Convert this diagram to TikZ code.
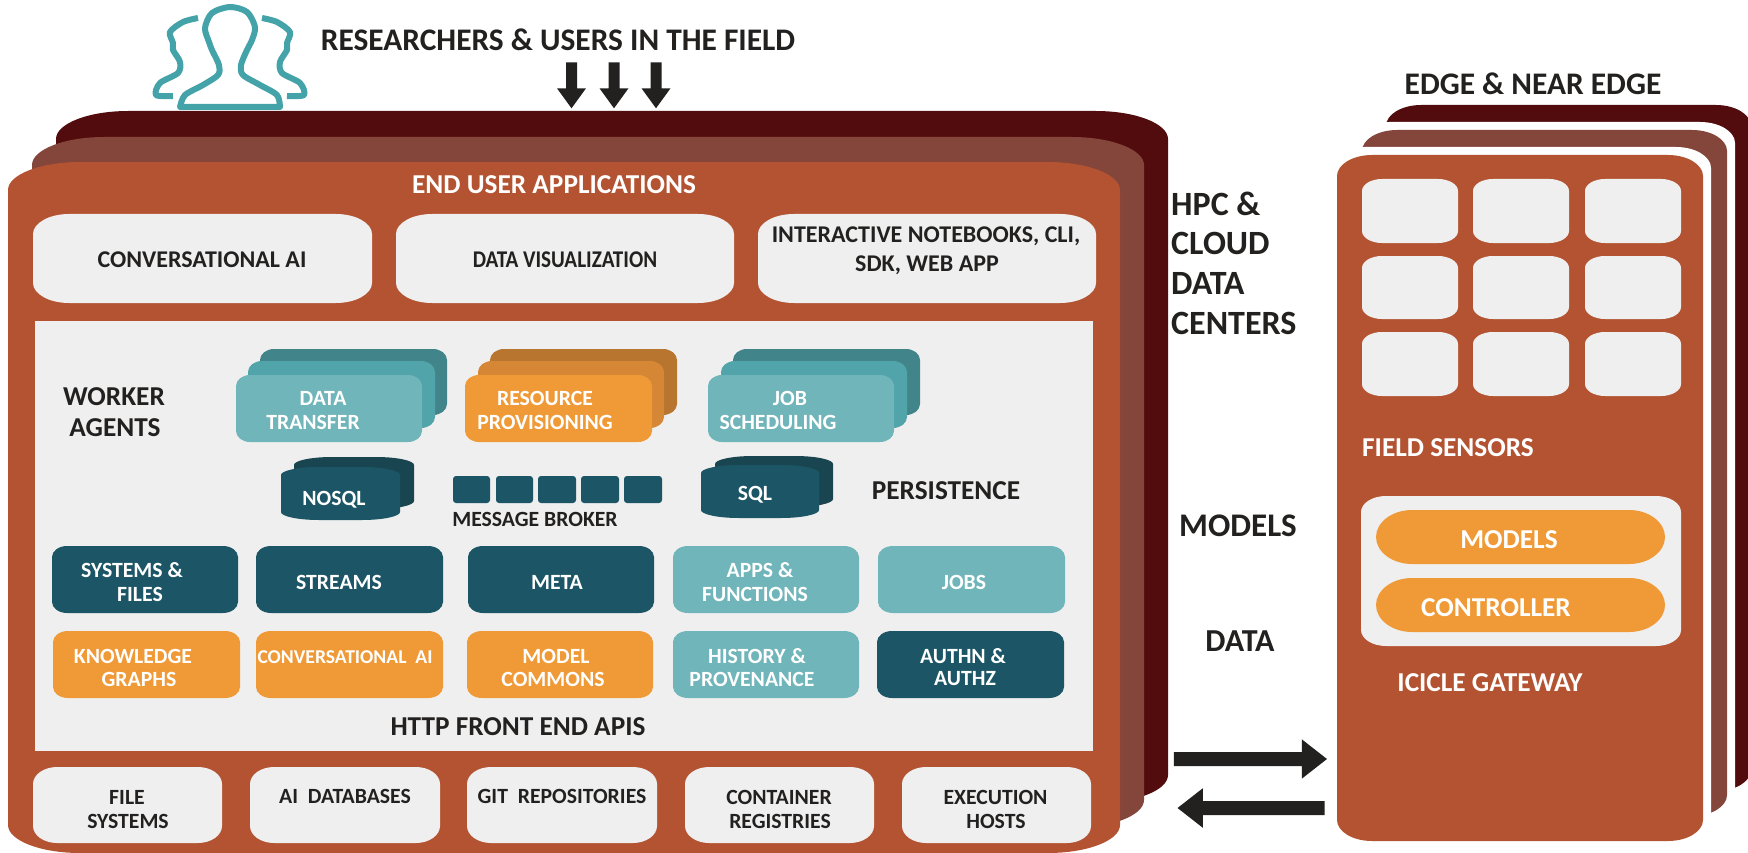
\documentclass[tikz,border=0pt]{standalone}
\usepackage{fontspec}
\setmainfont{Carlito}
\usetikzlibrary{shapes.arrows}

\definecolor{rust}{HTML}{B35332}
\definecolor{rustmid}{HTML}{84453A}
\definecolor{rustback}{HTML}{520C0D}
\definecolor{panel}{HTML}{EFEFEF}
\definecolor{deepteal}{HTML}{1C5666}
\definecolor{deeptealback}{HTML}{194551}
\definecolor{teal1}{HTML}{70B5BA}
\definecolor{teal2}{HTML}{52A4AB}
\definecolor{teal3}{HTML}{41848A}
\definecolor{amber1}{HTML}{F09A37}
\definecolor{amber2}{HTML}{D68735}
\definecolor{amber3}{HTML}{B8752F}
\definecolor{icon}{HTML}{44A3A8}
\definecolor{ink}{HTML}{222120}

% fill, x0, y0, x1, y1, x radius, y radius
\newcommand{\ebox}[7]{%
  \fill[#1] ({#2+#6},#3) -- ({#4-#6},#3)
    .. controls ({#4-.45*#6},#3) and (#4,{#3+.45*#7}) .. (#4,{#3+#7})
    -- (#4,{#5-#7})
    .. controls (#4,{#5-.45*#7}) and ({#4-.45*#6},#5) .. ({#4-#6},#5)
    -- ({#2+#6},#5)
    .. controls ({#2+.45*#6},#5) and (#2,{#5-.45*#7}) .. (#2,{#5-#7})
    -- (#2,{#3+#7})
    .. controls (#2,{#3+.45*#7}) and ({#2+.45*#6},#3) .. cycle;}

\begin{document}
\begin{tikzpicture}[x=1pt, y=-1pt, line join=round]
  \useasboundingbox (0,0) rectangle (1748,853);
  \tikzset{
    lab/.style={font=\fontsize{21.7}{24}\selectfont\bfseries, text=ink, inner sep=0pt},
    whitelab/.style={lab, text=white},
    applab/.style={lab, font=\fontsize{24}{26}\selectfont\bfseries},
    biglab/.style={lab, font=\fontsize{31.4}{33}\selectfont\bfseries},
    sidelab/.style={lab, font=\fontsize{34}{36}\selectfont\bfseries},
    headlab/.style={lab, font=\fontsize{27.3}{29}\selectfont\bfseries, yshift=-0.8pt},
    whitehead/.style={headlab, text=white},
    blockarrow/.style={single arrow, fill=ink, single arrow head indent=0pt, anchor=center},
    downarrow/.style={blockarrow, shape border rotate=270, inner sep=5pt, minimum height=46pt, minimum width=29pt,
      single arrow head extend=8.5pt, single arrow tip angle=72},
    sidearrow/.style={blockarrow, inner xsep=0pt, inner ysep=6.8pt, minimum width=39pt,
      single arrow head extend=12.7pt, single arrow tip angle=76},
    person/.style={icon, line width=6pt, line cap=butt}
  }

  % --- people icon
  \draw[person] plot[smooth] coordinates {(180,107) (185,95) (203,85) (218,75) (219,65) (212,50) (209,42)
    (205,28) (212,13) (230,7) (247,12) (255,27) (252,40) (247,50) (241,65) (243,75) (260,85) (277,95) (280,107)} -- cycle;
  \draw[person] plot[smooth] coordinates {(198,18) (183,22) (170,32) (173,43) (173,50) (180,62) (178,73)
    (160,83) (156,95) (173,96)};
  \draw[person] plot[smooth] coordinates {(262,18) (277,22) (290,32) (287,43) (287,50) (280,62) (282,73)
    (300,83) (304,95) (287,96)};

  % --- data center layers
  \ebox{rustback}{56}{111}{1168}{803}{72}{28}
  \ebox{rustmid}{32}{137}{1144}{828}{72}{28}
  \ebox{rust}{8}{162}{1120}{853}{72}{28}

  % --- edge layers
  \ebox{rustback}{1386}{105}{1751}{791}{35}{21}
  \ebox{white}{1354}{122}{1735}{824}{35}{21}
  \ebox{rustmid}{1362}{130}{1727}{816}{35}{21}
  \ebox{white}{1329}{147}{1711}{849}{35}{21}
  \ebox{rust}{1337}{155}{1703}{841}{35}{21}

  % --- end user applications
  \ebox{panel}{33}{214}{372}{303}{36}{20}
  \ebox{panel}{396}{214}{734}{303}{36}{20}
  \ebox{panel}{758}{214}{1096}{303}{36}{20}

  \node[whitehead] (appslab) at (554,184) {END USER APPLICATIONS};
  \node[applab] (chatlab) at (202,260) {CONVERSATIONAL AI};
  \node[applab] (vizlab) at (565,260) {\scalebox{.88}[1]{DATA VISUALIZATION}};
  \node[applab] (notelab) at (926,236) {INTERACTIVE NOTEBOOKS, CLI,};
  \node[applab] (sdklab) at (927,265) {SDK, WEB APP};

  % --- services panel
  \fill[panel] (35,321) rectangle (1093,751);

  \node[headlab] (workerlab) at (114,396) {WORKER};
  \node[headlab] (agentslab) at (115,427) {AGENTS};

  % --- worker stacks
  \ebox{teal3}{260}{349}{447}{415}{14}{11}
  \ebox{teal2}{248}{361}{435}{428}{14}{11}
  \ebox{teal1}{236}{375}{422}{442}{14}{11}
  \ebox{amber3}{490}{349}{677}{415}{14}{11}
  \ebox{amber2}{478}{361}{664}{428}{14}{11}
  \ebox{amber1}{465}{375}{652}{442}{14}{11}
  \ebox{teal3}{733}{349}{920}{415}{14}{11}
  \ebox{teal2}{721}{361}{907}{428}{14}{11}
  \ebox{teal1}{708}{375}{894}{442}{14}{11}

  \node[whitelab] (datalab) at (323,398) {DATA};
  \node[whitelab] (transferlab) at (313,422) {TRANSFER};
  \node[whitelab] (resourcelab) at (545,398) {RESOURCE};
  \node[whitelab] (provisionlab) at (545,422) {PROVISIONING};
  \node[whitelab] (joblab) at (790,398) {JOB};
  \node[whitelab] (schedlab) at (778,422) {SCHEDULING};

  % --- persistence
  \ebox{deeptealback}{294}{457}{414}{509}{38}{8}
  \ebox{deepteal}{281}{467}{400}{520}{38}{8}
  \ebox{deeptealback}{715}{456}{833}{507}{38}{8}
  \ebox{deepteal}{701}{465}{819}{518}{38}{8}

  \ebox{deepteal}{453}{476}{490}{503}{3}{3}
  \ebox{deepteal}{496}{476}{533}{503}{3}{3}
  \ebox{deepteal}{538}{476}{576}{503}{3}{3}
  \ebox{deepteal}{581}{476}{619}{503}{3}{3}
  \ebox{deepteal}{624}{476}{662}{503}{3}{3}

  \node[whitelab] (nosqllab) at (334,500) {NOSQL};
  \node[whitelab] (sqllab) at (755,495) {SQL};
  \node[lab] (brokerlab) at (535,519) {MESSAGE BROKER};
  \node[headlab] (persistlab) at (946,490) {PERSISTENCE};

  % --- service tiles, upper row
  \ebox{deepteal}{52}{546}{238}{613}{15}{11}
  \ebox{deepteal}{256}{546}{443}{613}{15}{11}
  \ebox{deepteal}{468}{546}{654}{613}{15}{11}
  \ebox{teal1}{673}{546}{859}{613}{15}{11}
  \ebox{teal1}{878}{546}{1065}{613}{15}{11}

  \node[whitelab] (systemslab) at (132,570) {SYSTEMS \&};
  \node[whitelab] (fileslab) at (140,594) {FILES};
  \node[whitelab] (streamslab) at (339,582) {STREAMS};
  \node[whitelab] (metalab) at (557,582) {META};
  \node[whitelab] (appslabb) at (760,570) {APPS \&};
  \node[whitelab] (funclab) at (755,594) {FUNCTIONS};
  \node[whitelab] (jobslab) at (964,582) {JOBS};

  % --- service tiles, lower row
  \ebox{amber1}{53}{631}{240}{698}{15}{11}
  \ebox{amber1}{256}{631}{443}{698}{15}{11}
  \ebox{amber1}{467}{631}{653}{698}{15}{11}
  \ebox{teal1}{673}{631}{859}{698}{15}{11}
  \ebox{deepteal}{877}{631}{1064}{698}{15}{11}

  \node[whitelab] (knowlab) at (133,656) {KNOWLEDGE};
  \node[whitelab] (graphlab) at (139,679) {GRAPHS};
  \node[whitelab, font=\fontsize{19.6}{21}\selectfont\bfseries] (chat2lab) at (345,657) {CONVERSATIONAL\ \ AI};
  \node[whitelab] (modellab) at (556,656) {MODEL};
  \node[whitelab] (commonslab) at (553,679) {COMMONS};
  \node[whitelab] (historylab) at (757,656) {HISTORY \&};
  \node[whitelab] (provlab) at (752,679) {PROVENANCE};
  \node[whitelab] (authnlab) at (963,656) {AUTHN \&};
  \node[whitelab] (authzlab) at (965,679) {AUTHZ};

  \node[headlab] (httplab) at (518,726) {HTTP FRONT END APIS};

  % --- storage row
  \ebox{panel}{33}{767}{222}{843}{24}{17}
  \ebox{panel}{250}{767}{440}{843}{24}{17}
  \ebox{panel}{467}{767}{657}{843}{24}{17}
  \ebox{panel}{685}{767}{874}{843}{24}{17}
  \ebox{panel}{902}{767}{1091}{843}{24}{17}

  \node[lab] (filelab) at (127,797) {FILE};
  \node[lab] (systems2lab) at (128,821) {SYSTEMS};
  \node[lab] (dblab) at (345,796) {AI\ \ DATABASES};
  \node[lab] (gitlab) at (562,796) {GIT\ \ REPOSITORIES};
  \node[lab] (containerlab) at (779,797) {CONTAINER};
  \node[lab] (registrylab) at (780,821) {REGISTRIES};
  \node[lab] (execlab) at (995.5,797) {EXECUTION};
  \node[lab] (hostlab) at (996,821) {HOSTS};

  % --- field sensors
  \ebox{panel}{1362}{179}{1458}{243}{20}{12}
  \ebox{panel}{1473}{179}{1569}{243}{20}{12}
  \ebox{panel}{1585}{179}{1681}{243}{20}{12}
  \ebox{panel}{1362}{256}{1458}{319}{20}{12}
  \ebox{panel}{1473}{256}{1569}{319}{20}{12}
  \ebox{panel}{1585}{256}{1681}{319}{20}{12}
  \ebox{panel}{1362}{332}{1458}{396}{20}{12}
  \ebox{panel}{1473}{332}{1569}{396}{20}{12}
  \ebox{panel}{1585}{332}{1681}{396}{20}{12}

  \node[whitehead] (sensorlab) at (1448,447) {FIELD SENSORS};

  % --- gateway
  \ebox{panel}{1361}{496}{1681}{646}{25}{16}
  \ebox{amber1}{1376}{510}{1665}{564}{36}{27}
  \ebox{amber1}{1376}{578}{1665}{632}{36}{27}

  \node[whitehead] (modelslab) at (1509,539) {MODELS};
  \node[whitehead] (ctrllab) at (1496,607) {CONTROLLER};
  \node[whitehead] (gatewaylab) at (1490,682) {ICICLE GATEWAY};

  % --- headings outside the layers
  \node[biglab] (userslab) at (558,40) {RESEARCHERS \& USERS IN THE FIELD};
  \node[biglab] (edgelab) at (1533,84) {EDGE \& NEAR EDGE};
  \node[sidelab, anchor=west] (hpclab) at (1171,204) {HPC \&};
  \node[sidelab, anchor=west] (cloudlab) at (1171,243) {CLOUD};
  \node[sidelab, anchor=west] (dclab) at (1171,283) {DATA};
  \node[sidelab, anchor=west] (centerslab) at (1171,323) {CENTERS};
  \node[lab, font=\fontsize{33}{35}\selectfont\bfseries] (modeltextlab) at (1238,526) {MODELS};
  \node[lab, font=\fontsize{32}{34}\selectfont\bfseries] (datatextlab) at (1240,641) {DATA};

  % --- block arrows
  \node[downarrow] (down1) at (571.5,81.5) {};
  \node[downarrow] (down2) at (614,81.5) {};
  \node[downarrow] (down3) at (656,81.5) {};
  \node[sidearrow, minimum height=153pt] (toedge) at (1246,759) {};
  \node[sidearrow, minimum height=147pt, shape border rotate=180] (tocloud) at (1255.5,808) {};
\end{tikzpicture}
\end{document}
